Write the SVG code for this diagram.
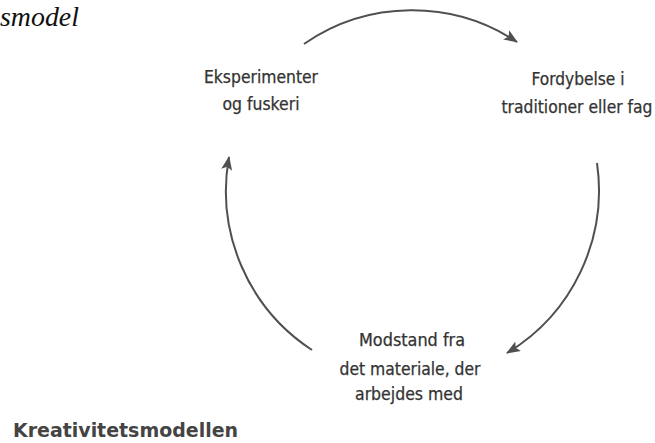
<svg xmlns="http://www.w3.org/2000/svg" width="655" height="443" viewBox="0 0 655 443">
<style>
.lbl{font-family:"DejaVu Sans Condensed","DejaVu Sans",sans-serif;font-size:17px;fill:#333;stroke:#333;stroke-width:0.25;text-anchor:middle}
.arc{fill:none;stroke:#505050;stroke-width:2}
.title{font-family:"DejaVu Sans Condensed","DejaVu Sans",sans-serif;font-size:19px;font-weight:bold;fill:#444}
.cap{font-family:"Liberation Serif",serif;font-style:italic;font-size:27px;fill:#111}
</style>
<defs>
<marker id="ah" markerUnits="userSpaceOnUse" markerWidth="16" markerHeight="12" refX="13" refY="5.5" orient="auto">
<path d="M0,0 L14,5.5 L0,11 L3,5.5 z" fill="#505050"/>
</marker>
</defs>
<rect width="655" height="443" fill="#fff"/>
<text class="cap" x="0" y="26" textLength="79" lengthAdjust="spacingAndGlyphs">smodel</text>
<g id="connectors">
<path class="arc" d="M304,44 A190,190 0 0 1 517,42" marker-end="url(#ah)"/>
<path class="arc" d="M597,163 A190,190 0 0 1 507,353" marker-end="url(#ah)"/>
<path class="arc" d="M312,350 A190,190 0 0 1 229,157" marker-end="url(#ah)"/>
</g>
<g id="node-eksperimenter">
<text class="lbl" x="261" y="83" textLength="114" lengthAdjust="spacingAndGlyphs">Eksperimenter</text>
<text class="lbl" x="261" y="110" textLength="77" lengthAdjust="spacingAndGlyphs">og fuskeri</text>
</g>
<g id="node-fordybelse">
<text class="lbl" x="578" y="85" textLength="93" lengthAdjust="spacingAndGlyphs">Fordybelse i</text>
<text class="lbl" x="577" y="113" textLength="151" lengthAdjust="spacingAndGlyphs">traditioner eller fag</text>
</g>
<g id="node-modstand">
<text class="lbl" x="412" y="346" textLength="106" lengthAdjust="spacingAndGlyphs">Modstand fra</text>
<text class="lbl" x="410" y="375" textLength="141" lengthAdjust="spacingAndGlyphs">det materiale, der</text>
<text class="lbl" x="409" y="400" textLength="108" lengthAdjust="spacingAndGlyphs">arbejdes med</text>
</g>
<text class="title" x="13" y="437" textLength="225" lengthAdjust="spacingAndGlyphs">Kreativitetsmodellen</text>
</svg>
